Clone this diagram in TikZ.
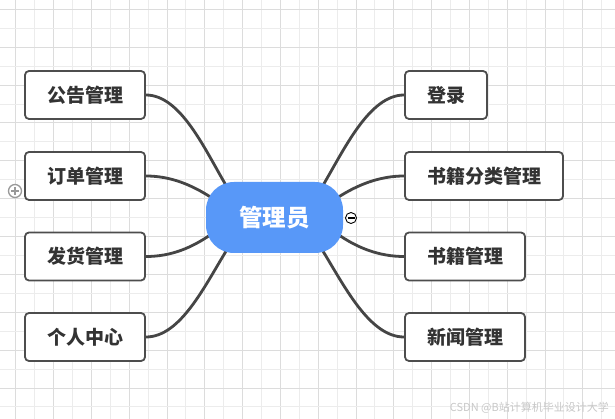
\documentclass[tikz,border=0pt]{standalone}
\usepackage{fontspec}
\setmainfont{Noto Sans CJK SC}
\usetikzlibrary{calc}
\pgfdeclarelayer{gridlayer}
\pgfdeclarelayer{linklayer}
\pgfsetlayers{gridlayer,linklayer,main}
\definecolor{gridmaj}{HTML}{DCDCDC}
\definecolor{gridmin}{HTML}{ECECEC}
\definecolor{boxline}{HTML}{4D4D4D}
\definecolor{linkcol}{HTML}{454545}
\definecolor{txt}{HTML}{333333}
\definecolor{mainblue}{HTML}{5898F8}
\definecolor{wmark}{HTML}{C8C8C8}
\definecolor{pluscol}{HTML}{999999}
\tikzset{
  leafbox/.style={draw=boxline, line width=1.8pt, fill=white, rounded corners=4pt,
    minimum height=48pt, inner sep=0pt, text=txt,
    font=\fontsize{19}{19}\selectfont\bfseries},
  rootbox/.style={fill=mainblue, rounded corners=28pt, minimum width=137pt,
    minimum height=71pt, inner sep=0pt, text=white,
    font=\fontsize{23.5}{23.5}\selectfont\bfseries},
  link/.style={draw=linkcol, line width=2.8pt},
}
\begin{document}
\begin{tikzpicture}[x=1pt,y=-1pt]
\useasboundingbox (0,0) rectangle (615,419);
\begin{pgfonlayer}{gridlayer}
\fill[white] (0,0) rectangle (615,419);
\foreach \i in {0,...,31} {
  \pgfmathsetmacro\xx{15.7+18.9*\i}
  \ifodd\i
    \draw[gridmin, line width=0.8pt] (\xx,0) -- (\xx,419);
  \else
    \draw[gridmaj, line width=0.8pt] (\xx,0) -- (\xx,419);
  \fi
}
\foreach \i in {0,...,21} {
  \pgfmathsetmacro\yy{9.3+18.93*\i}
  \ifodd\i
    \draw[gridmin, line width=0.8pt] (0,\yy) -- (615,\yy);
  \else
    \draw[gridmaj, line width=0.8pt] (0,\yy) -- (615,\yy);
  \fi
}
\end{pgfonlayer}

\node[rootbox] (c) at (274.5,217.5) {管理员};

\node[leafbox, minimum width=120pt] (l1) at (85,95) {公告管理};
\node[leafbox, minimum width=120pt] (l2) at (85,176) {订单管理};
\node[leafbox, minimum width=120pt] (l3) at (85,256.5) {发货管理};
\node[leafbox, minimum width=120pt] (l4) at (85,337) {个人中心};

\node[leafbox, minimum width=82pt] (r1) at (446,95) {登录};
\node[leafbox, minimum width=158pt] (r2) at (484,176) {书籍分类管理};
\node[leafbox, minimum width=120pt] (r3) at (465,256.5) {书籍管理};
\node[leafbox, minimum width=120pt] (r4) at (465,337) {新闻管理};

\begin{pgfonlayer}{linklayer}
\draw[link] (l1.east) .. controls +(35,0) and ($(c.center)+(-69.5,-67.5)$) .. ($(c.center)+(-47.5,-30.5)$);
\draw[link] (l2.east) .. controls +(25,0) and ($(c.center)+(-82.5,-32.5)$) .. ($(c.center)+(-62.5,-19.5)$);
\draw[link] (l3.east) .. controls +(25,0) and ($(c.center)+(-82.5,30.5)$) .. ($(c.center)+(-61.5,15.5)$);
\draw[link] (l4.east) .. controls +(35,0) and ($(c.center)+(-69.5,67.5)$) .. ($(c.center)+(-46.5,30.5)$);
\draw[link] (r1.west) .. controls +(-35,0) and ($(c.center)+(69.5,-67.5)$) .. ($(c.center)+(47.5,-30.5)$);
\draw[link] (r2.west) .. controls +(-25,0) and ($(c.center)+(82.5,-32.5)$) .. ($(c.center)+(62.5,-19.5)$);
\draw[link] (r3.west) .. controls +(-25,0) and ($(c.center)+(82.5,30.5)$) .. ($(c.center)+(61.5,15.5)$);
\draw[link] (r4.west) .. controls +(-35,0) and ($(c.center)+(69.5,67.5)$) .. ($(c.center)+(46.5,30.5)$);
\end{pgfonlayer}

% expand / collapse markers
\node[circle, draw=pluscol, line width=1.3pt, fill=white, minimum size=13pt, inner sep=0pt] (plus) at (15,191) {};
\draw[pluscol, line width=1.3pt] ($(plus.center)+(-4,0)$) -- ($(plus.center)+(4,0)$)
  ($(plus.center)+(0,-4)$) -- ($(plus.center)+(0,4)$);
\node[circle, draw=black, line width=0.9pt, fill=white, minimum size=11pt, inner sep=0pt] (minus) at (351,218) {};
\draw[black, line width=1.2pt] ($(minus.center)+(-3.5,0)$) -- ($(minus.center)+(3.5,0)$);

\node[anchor=east, text=wmark, font=\fontsize{11}{11}\selectfont, inner sep=0pt] (wm) at (609,408) {CSDN @B站计算机毕业设计大学};
\end{tikzpicture}
\end{document}
